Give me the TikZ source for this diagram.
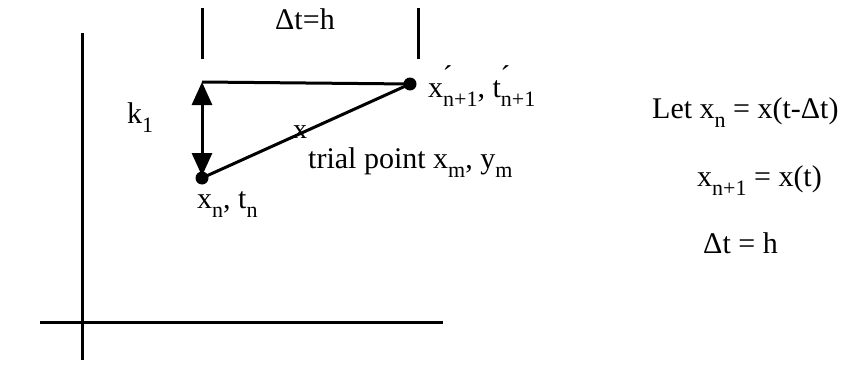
\documentclass[tikz,border=0pt]{standalone}
\usepackage{fontspec}
\setmainfont{Liberation Serif}
\usetikzlibrary{arrows.meta}
\newcommand\lowsub[1]{\raisebox{-0.3em}{\fontsize{22}{22}\selectfont #1}}
\newcommand\primesub[2]{#1\rlap{\raisebox{0.36em}{\hspace{-0.02em}´}}\lowsub{#2}}
\tikzset{
  lbl/.style={inner sep=0pt, anchor=base west, font=\fontsize{30}{36}\selectfont},
  ln/.style={line width=3pt},
  pt/.style={circle, fill=black, inner sep=0pt, minimum size=13pt},
  tip/.style={-{Triangle[width=20pt,length=23pt]}}
}
\begin{document}
\begin{tikzpicture}[x=1pt,y=-1pt]
\useasboundingbox (0,0) rectangle (845,369);
% axes
\coordinate (vt) at (82,33); \coordinate (vb) at (82,360);
\coordinate (hl) at (40,322); \coordinate (hr) at (443,322);
\draw[ln] (vt) -- (vb);
\draw[ln] (hl) -- (hr);
% ticks
\coordinate (t1a) at (202,8); \coordinate (t1b) at (202,59);
\coordinate (t2a) at (418,8); \coordinate (t2b) at (418,59);
\draw[ln] (t1a) -- (t1b);
\draw[ln] (t2a) -- (t2b);
% points
\node[pt] (pn) at (202,178) {};
\node[pt] (pn1) at (410,84) {};
\coordinate (tl) at (202,82);
\draw[ln] (tl) -- (pn1.center);
\draw[ln] (pn.center) -- (pn1.center);
\coordinate (mid) at (202,130);
\draw[ln,tip] (mid) -- (tl);
\draw[ln,tip] (mid) -- (202,176);
% labels
\node[lbl] (dt) at (275,30) {Δt=h};
\node[lbl] (k) at (127,123) {k\lowsub{1}};
\node[lbl,anchor=center,font=\fontsize{28}{30}\selectfont] (xm) at (300,132) {x};
\node[lbl] (xn) at (197,208) {x\lowsub{n}, t\lowsub{n}};
\node[lbl] (xn1) at (428,97) {\primesub{x}{n+1}, \primesub{t}{n+1}};
\node[lbl] (tr) at (308,168) {trial point x\lowsub{m}, y\lowsub{m}};
\node[lbl] (let) at (652,118) {Let x\lowsub{n} = x(t-Δt)};
\node[lbl] (e2) at (697,186) {x\lowsub{n+1} = x(t)};
\node[lbl] (e3) at (703,253) {Δt = h};
\end{tikzpicture}
\end{document}
